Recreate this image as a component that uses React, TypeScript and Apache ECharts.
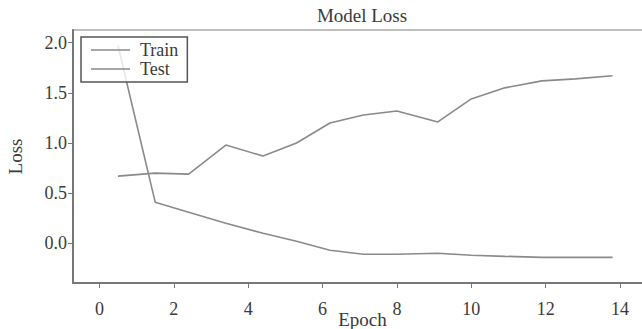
import React, { useEffect, useRef } from "react";
import * as echarts from "echarts";

const epochs = [0.5, 1.5, 2.4, 3.4, 4.4, 5.3, 6.2, 7.1, 8.0, 9.1, 10.0, 10.9, 11.9, 12.8, 13.8];
const trainLoss = [1.97, 0.41, 0.31, 0.2, 0.1, 0.02, -0.07, -0.11, -0.11, -0.1, -0.12, -0.13, -0.14, -0.14, -0.14];
const testLoss = [0.67, 0.7, 0.69, 0.98, 0.87, 1.0, 1.2, 1.28, 1.32, 1.21, 1.44, 1.55, 1.62, 1.64, 1.67];
const xTicks = [0, 2, 4, 6, 8, 10, 12, 14];
const yTicks = [0, 0.5, 1.0, 1.5, 2.0];

const FONT = "Liberation Serif";
const LINE = "#8a8a8a";
const TEXT = "#3a3a3a";

export default function App() {
  const ref = useRef<HTMLDivElement>(null);
  useEffect(() => {
    if (!ref.current) return;
    const chart = echarts.init(ref.current, null, { renderer: "svg" });
    chart.setOption({
      animation: false,
      backgroundColor: "#fff",
      title: {
        text: "Model Loss",
        left: 362,
        textAlign: "center",
        top: 6,
        padding: 0,
        textStyle: { fontFamily: FONT, fontSize: 19, fontWeight: "normal", color: TEXT },
      },
      legend: {
        left: 81,
        top: 37,
        orient: "vertical",
        padding: [4, 9, 4, 10],
        itemGap: 1,
        itemWidth: 39,
        itemHeight: 1.6,
        icon: "rect",
        borderColor: "#555",
        borderWidth: 1.5,
        borderRadius: 0,
        backgroundColor: "rgba(255,255,255,0.8)",
        textStyle: { fontFamily: FONT, fontSize: 18, color: TEXT, lineHeight: 17, padding: [0, 0, 0, 5] },
        data: ["Train", "Test"],
      },
      grid: {
        left: 73,
        top: 30,
        right: -10,
        bottom: 46,
        outerBoundsMode: "none",
        containLabel: false,
        show: true,
        borderColor: "#aaa",
        borderWidth: 1.5,
        backgroundColor: "transparent",
      },
      xAxis: {
        type: "value",
        min: -0.71,
        max: 14.86,
        name: "Epoch",
        nameLocation: "middle",
        nameGap: 27,
        nameMoveOverlap: false,
        nameTextStyle: { fontFamily: FONT, fontSize: 19, color: TEXT },
        axisLine: { onZero: false, lineStyle: { color: "#777", width: 2 } },
        axisTick: { show: true, length: 5, customValues: xTicks, lineStyle: { color: "#777" } },
        axisLabel: { customValues: xTicks, fontFamily: FONT, fontSize: 18, color: TEXT, margin: 17 },
        splitLine: { show: false },
      },
      yAxis: {
        type: "value",
        min: -0.396,
        max: 2.127,
        name: "Loss",
        nameLocation: "middle",
        nameGap: 48,
        nameMoveOverlap: false,
        nameTextStyle: { fontFamily: FONT, fontSize: 19, color: TEXT },
        axisLine: { show: true, onZero: false, lineStyle: { color: "#777", width: 2 } },
        axisTick: { show: true, length: 5, customValues: yTicks, lineStyle: { color: "#777" } },
        axisLabel: {
          customValues: yTicks,
          fontFamily: FONT,
          fontSize: 18,
          color: TEXT,
          margin: 6,
          formatter: (v: number) => v.toFixed(1),
        },
        splitLine: { show: false },
      },
      series: [
        {
          name: "Train",
          type: "line",
          symbol: "none",
          data: epochs.map((x, i) => [x, trainLoss[i]]),
          lineStyle: { color: LINE, width: 1.6 },
          itemStyle: { color: LINE },
        },
        {
          name: "Test",
          type: "line",
          symbol: "none",
          data: epochs.map((x, i) => [x, testLoss[i]]),
          lineStyle: { color: LINE, width: 1.6 },
          itemStyle: { color: LINE },
        },
      ],
    });
    return () => chart.dispose();
  }, []);
  return <div ref={ref} style={{ width: 642, height: 329, position: "absolute", left: 0, top: 0 }} />;
}
